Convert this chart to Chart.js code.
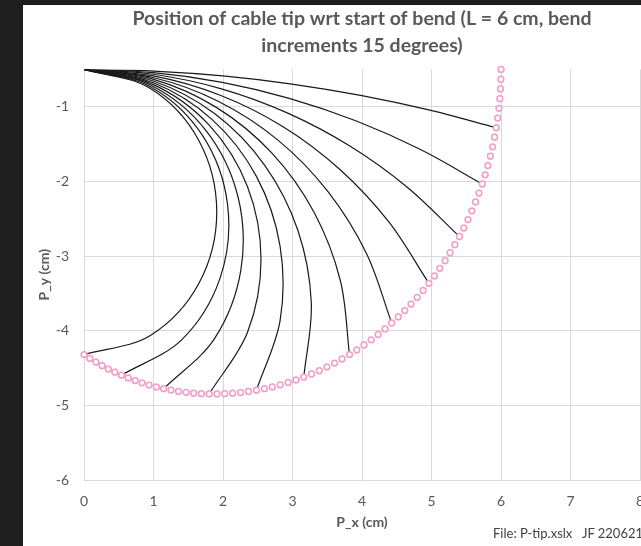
<!DOCTYPE html>
<html>
<head>
<meta charset="utf-8">
<script src="https://cdn.jsdelivr.net/npm/chart.js@4"></script>
<style>
  body { margin: 0; background: #1e1e1e; width: 641px; height: 546px; overflow: hidden; }
  #wrap { position: absolute; left: 23px; top: 5px; width: 618px; height: 541px; background: #fff; overflow: hidden; }
  #c { position: absolute; left: 0; top: 0; }
  #note { position: absolute; left: 470px; top: 520px; font: 13px Lato, sans-serif; color: #404040; white-space: nowrap; }
</style>
</head>
<body>
<div id="wrap">
  <canvas id="c" width="678" height="541"></canvas>
  <div id="note">File: P-tip.xslx&nbsp;&nbsp;&nbsp;JF 220621</div>
</div>
<script>
// tip locus (pink markers), every 2.5 degrees of bend
const tipX = [6.000, 5.998, 5.992, 5.983, 5.970, 5.953, 5.932, 5.907, 5.879, 5.847, 5.811, 5.772, 5.730,
  5.683, 5.634, 5.581, 5.524, 5.465, 5.402, 5.336, 5.267, 5.195, 5.120, 5.042, 4.962,
  4.879, 4.793, 4.705, 4.615, 4.522, 4.427, 4.331, 4.232, 4.131, 4.029, 3.925, 3.820,
  3.713, 3.605, 3.496, 3.386, 3.274, 3.162, 3.050, 2.937, 2.823, 2.709, 2.595, 2.481,
  2.367, 2.253, 2.139, 2.026, 1.913, 1.801, 1.689, 1.578, 1.469, 1.360, 1.252, 1.146,
  1.041, 0.937, 0.835, 0.735, 0.636, 0.539, 0.444, 0.351, 0.260, 0.171, 0.084, 0.000];
const tipY = [-0.500, -0.631, -0.762, -0.892, -1.022, -1.152, -1.281, -1.409, -1.537, -1.663, -1.788, -1.912, -2.035,
  -2.157, -2.276, -2.394, -2.511, -2.625, -2.738, -2.848, -2.956, -3.062, -3.165, -3.266, -3.365,
  -3.461, -3.554, -3.644, -3.731, -3.816, -3.897, -3.976, -4.051, -4.123, -4.192, -4.257, -4.320,
  -4.379, -4.434, -4.486, -4.535, -4.580, -4.621, -4.660, -4.694, -4.725, -4.753, -4.777, -4.797,
  -4.814, -4.828, -4.838, -4.844, -4.847, -4.847, -4.844, -4.837, -4.826, -4.813, -4.796, -4.777,
  -4.754, -4.728, -4.699, -4.668, -4.633, -4.596, -4.556, -4.514, -4.469, -4.421, -4.372, -4.320];

// cable shapes, bend 15, 30, ... 180 degrees
const cableX = [
  [0, 1.000, 1.997, 2.991, 3.980, 4.961, 5.932],
  [0, 0.999, 1.990, 2.966, 3.919, 4.843, 5.730],
  [0, 0.997, 1.977, 2.924, 3.820, 4.651, 5.402],
  [0, 0.995, 1.960, 2.865, 3.683, 4.389, 4.962],
  [0, 0.992, 1.937, 2.791, 3.511, 4.066, 4.427],
  [0, 0.989, 1.910, 2.701, 3.308, 3.689, 3.820],
  [0, 0.985, 1.878, 2.598, 3.077, 3.271, 3.162],
  [0, 0.980, 1.841, 2.481, 2.821, 2.822, 2.481],
  [0, 0.975, 1.801, 2.353, 2.547, 2.353, 1.801],
  [0, 0.969, 1.756, 2.214, 2.257, 1.878, 1.146],
  [0, 0.962, 1.707, 2.066, 1.958, 1.408, 0.539],
  [0, 0.955, 1.654, 1.910, 1.654, 0.955, 0.000]
];
const cableY = [
  [-0.5, -0.522, -0.587, -0.696, -0.848, -1.043, -1.281],
  [-0.5, -0.544, -0.674, -0.891, -1.191, -1.573, -2.035],
  [-0.5, -0.565, -0.760, -1.082, -1.523, -2.078, -2.738],
  [-0.5, -0.587, -0.846, -1.268, -1.841, -2.547, -3.365],
  [-0.5, -0.609, -0.929, -1.447, -2.137, -2.968, -3.897],
  [-0.5, -0.630, -1.012, -1.619, -2.410, -3.331, -4.320],
  [-0.5, -0.652, -1.092, -1.781, -2.654, -3.631, -4.621],
  [-0.5, -0.673, -1.170, -1.933, -2.867, -3.863, -4.797],
  [-0.5, -0.694, -1.246, -2.072, -3.047, -4.021, -4.847],
  [-0.5, -0.715, -1.319, -2.199, -3.190, -4.107, -4.777],
  [-0.5, -0.735, -1.388, -2.312, -3.296, -4.120, -4.596],
  [-0.5, -0.756, -1.455, -2.410, -3.365, -4.064, -4.320]
];

const xTicks = [0, 1, 2, 3, 4, 5, 6, 7, 8];
const yTicks = [-6, -5, -4, -3, -2, -1];

const grey = '#595959';
const gridGrey = '#d9d9d9';

const datasets = [{
  label: 'tip',
  data: tipX.map((x, i) => ({ x: x, y: tipY[i] })),
  showLine: false,
  pointRadius: 2.9,
  pointBorderWidth: 1.5,
  pointBorderColor: '#f29cc6',
  pointBackgroundColor: '#fff',
  clip: false
}];
cableX.forEach((xs, k) => {
  datasets.push({
    label: 'bend ' + (k + 1) * 15,
    data: xs.map((x, i) => ({ x: x, y: cableY[k][i] })),
    showLine: true,
    borderColor: '#1a1a1a',
    borderWidth: 1.2,
    pointRadius: 0,
    tension: 0.34,
    fill: false
  });
});

new Chart(document.getElementById('c'), {
  type: 'scatter',
  data: { datasets: datasets },
  options: {
    responsive: false,
    animation: false,
    layout: { padding: { left: 0, right: 61, top: 0, bottom: 0 } },
    plugins: {
      legend: { display: false },
      tooltip: { enabled: false },
      title: {
        display: true,
        fullSize: false,
        text: ['Position of cable tip wrt start of bend (L = 6 cm, bend', 'increments 15 degrees)'],
        color: grey,
        font: { family: 'Lato', size: 19.5, weight: 'bold', lineHeight: 1.4 },
        padding: { top: 0, bottom: 9.8 }
      }
    },
    scales: {
      x: {
        type: 'linear',
        min: 0, max: 8,
        afterBuildTicks: s => { s.ticks = xTicks.map(v => ({ value: v })); },
        afterFit: s => { s.height = 66; },
        grid: { color: gridGrey, drawTicks: false },
        border: { color: gridGrey },
        ticks: { color: grey, padding: 13, font: { family: 'Lato', size: 14 } },
        title: { display: true, text: 'P_x (cm)', color: grey, font: { family: 'Lato', size: 14, weight: 'bold' }, padding: { bottom: 15 } }
      },
      y: {
        type: 'linear',
        min: -6, max: -0.5,
        afterBuildTicks: s => { s.ticks = yTicks.map(v => ({ value: v })); },
        afterFit: s => { s.width = 61; },
        grid: { color: gridGrey, drawTicks: false },
        border: { color: gridGrey },
        ticks: { color: grey, padding: 15, font: { family: 'Lato', size: 14 } },
        title: { display: true, text: 'P_y (cm)', color: grey, font: { family: 'Lato', size: 14, weight: 'bold' }, padding: { top: 13 } }
      }
    }
  }
});
</script>
</body>
</html>
